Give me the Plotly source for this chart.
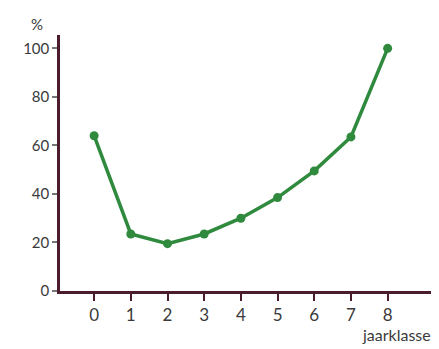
import plotly.graph_objects as go

jaarklasse = [0, 1, 2, 3, 4, 5, 6, 7, 8]
percentage = [64, 23.5, 19.5, 23.5, 30, 38.5, 49.5, 63.5, 100]
y_ticks = [0, 20, 40, 60, 80, 100]
y_ticktext = ["0", "20", "40", "60", "80", "100"]

green = "#2f8a3e"
axis_col = "#4b1c2c"
text_col = "#3a3a3a"

fig = go.Figure()
fig.add_trace(go.Scatter(
    x=jaarklasse, y=percentage, mode="lines+markers",
    line=dict(color=green, width=3.5),
    marker=dict(color=green, size=9),
    showlegend=False, hoverinfo="skip",
))

# page body adds an 8px offset, so the figure is 8px smaller
fig.update_layout(
    width=431, height=341,
    margin=dict(l=52, r=0, t=27, b=58),
    paper_bgcolor="white", plot_bgcolor="white",
    font=dict(family="Lato", color=text_col, size=15),
)
fig.update_xaxes(
    range=[-0.93, 9.4], tickvals=jaarklasse, ticktext=[str(v) for v in jaarklasse],
    showline=True, linecolor=axis_col, linewidth=2.5,
    ticks="outside", ticklen=7, tickwidth=2, tickcolor=axis_col,
    showgrid=False, zeroline=False, tickfont=dict(size=17),
)
fig.update_yaxes(
    range=[0, 105.5], tickvals=y_ticks, ticktext=y_ticktext,
    showline=True, linecolor=axis_col, linewidth=2.5,
    ticks="outside", ticklen=5, tickwidth=1.5, tickcolor="#777777",
    showgrid=False, zeroline=False, tickfont=dict(size=15),
)
fig.add_annotation(text="%", xref="paper", yref="paper", x=-0.06, y=1.0,
                   xanchor="center", yanchor="bottom", showarrow=False,
                   font=dict(size=15, color=text_col))
fig.add_annotation(text="jaarklasse", xref="paper", yref="paper", x=0.985, y=-0.17,
                   xanchor="right", yanchor="middle", showarrow=False,
                   font=dict(size=16, color=text_col))

fig.write_html("out.html")
